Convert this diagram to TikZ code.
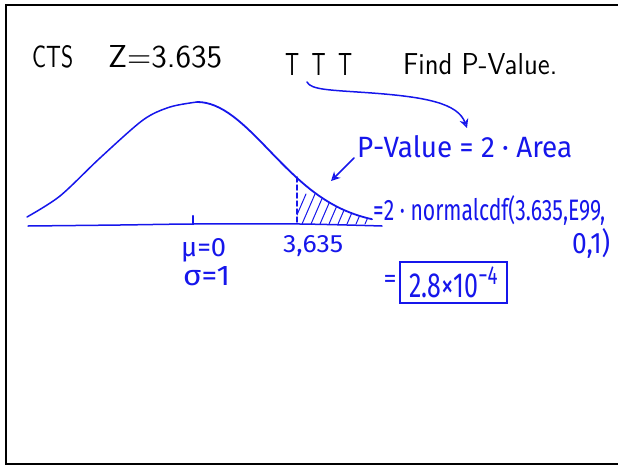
\documentclass[tikz,border=0pt]{standalone}
\usepackage{fontspec}
\usepackage{graphicx}
\usetikzlibrary{arrows.meta}
\newfontfamily\handb{Fira Sans}
\definecolor{ink}{RGB}{22,22,235}
\newcommand\fitt[3]{\resizebox{#1pt}{#2pt}{#3}}
\tikzset{
  blk/.style={inner sep=0pt, anchor=base west, text=black, font=\sffamily},
  blu/.style={inner sep=0pt, anchor=base west, text=ink, font=\handb},
  pen/.style={draw=ink, line width=1.5pt, line cap=round, line join=round},
  framestyle/.style={line width=2.6pt, draw=black},
  hatch/.style={draw=ink, line width=1pt, line cap=round},
  tip/.style={-{Stealth[length=9pt,width=9pt,open]}}
}
\begin{document}
\begin{tikzpicture}[x=1pt,y=-1pt]
\useasboundingbox (0,0) rectangle (618,466);
% frame
\draw[framestyle] (620,5) -- (6,5) -- (6,464) -- (620,464);

% header text
\node[blk] (cts) at (32,67) {\fitt{41}{22}{CTS}};
\node[blk] (z) at (108,67) {\fitt{114}{22}{Z=3.635}};
\node[blk] (ttt) at (285,75) {\fitt{67}{22}{T\hspace{0.6em}T\hspace{0.6em}T}};
\node[blk] (find) at (403,74) {\fitt{154}{21}{Find P-Value.}};

% bell curve
\draw[pen] plot[smooth] coordinates {(27,217) (60,196) (100,158) (143,120) (170,107) (197,102)};
\draw[pen, line width=1.8pt] plot[domain=197:372, samples=40] (\x, {226-124*exp(-((\x-197)/72.6)^2/2)});
% axis
\draw[pen] plot[smooth] coordinates {(28,226) (120,225) (193,224) (300,224) (382,226)};
\draw[pen, line width=2.4pt] (193,216) -- (193,224);
% dashed cut
\draw[pen, dashed, dash pattern=on 5pt off 3pt] (297,177) -- (297,224);
% hatching
\begin{scope}
\clip (297,225) -- plot[domain=297:372, samples=30] (\x, {226-124*exp(-((\x-197)/72.6)^2/2)}) -- (372,225) -- cycle;
\foreach \i in {0,...,9} \draw[hatch] (293+\i*9, 224) -- ++(13,-30);
\end{scope}

% labels
\node[blu] (mu) at (181,256) {\fitt{45}{18}{μ=0}};
\node[blu] (sig) at (183,285) {\fitt{47}{19}{σ=1}};
\node[blu] (lab) at (283,252) {\fitt{60}{17}{3,635}};

\node[blu] (pv) at (357,157) {\fitt{215}{22}{P-Value = 2 · Area}};
\node[blu] (ncdf) at (373,220) {\fitt{232}{25}{=2 · normalcdf(3.635,E99,}};
\node[blu] (ncdf2) at (572,253) {\fitt{38}{25}{0,1)}};
\node[blu, anchor=center] (eq) at (390,281) {\fontsize{26}{26}\selectfont =};
\node[draw=ink, line width=1.5pt, minimum width=107pt, minimum height=41pt, inner sep=0pt, text=ink, font=\handb] (ans) at (453.5,282.5)
  {\raisebox{-2pt}{\fitt{88}{31}{2.8×10\raisebox{0.38em}{\scalebox{0.75}{−4}}}}};

% arrows
\coordinate (a1) at (307,82);
\coordinate (a2) at (467,128);
\draw[pen, tip] (a1) .. controls (311,90) and (330,90) .. (372,93) .. controls (425,97) and (458,103) .. (a2);
\coordinate (b1) at (354,158);
\coordinate (b2) at (331,181);
\draw[pen, tip] (b1) -- (b2);
\end{tikzpicture}
\end{document}
